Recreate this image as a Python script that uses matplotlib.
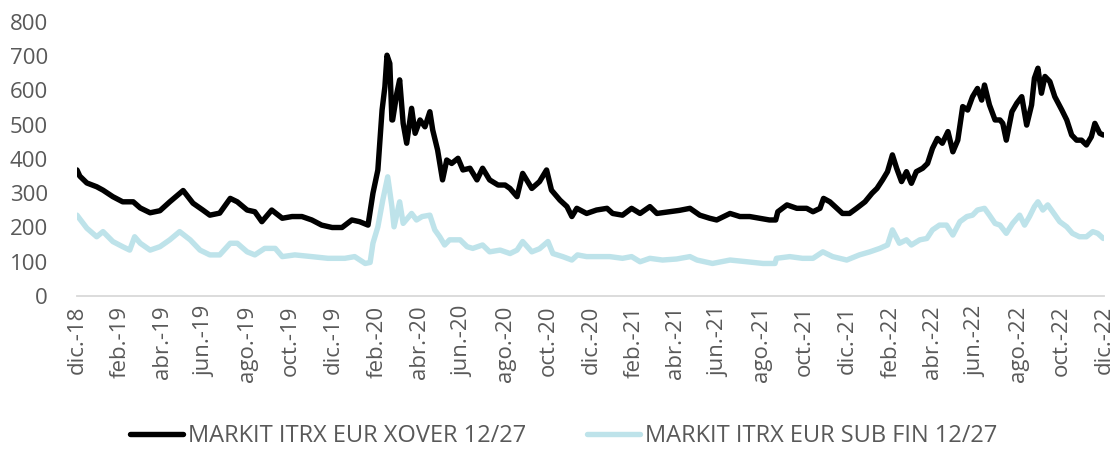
import pandas as pd
import matplotlib.pyplot as plt

plt.rcParams['font.family'] = ['Open Sans', 'DejaVu Sans']

# ---------------- data ----------------
xover_dates = [
    '2018-12-01', '2018-12-05', '2018-12-15', '2018-12-29', '2019-01-07', '2019-01-21',
    '2019-02-04', '2019-02-19', '2019-03-01', '2019-03-15', '2019-03-29', '2019-04-12',
    '2019-05-01', '2019-05-15', '2019-05-29', '2019-06-08', '2019-06-22', '2019-07-07',
    '2019-07-17', '2019-07-31', '2019-08-11', '2019-08-21', '2019-09-04', '2019-09-19',
    '2019-10-03', '2019-10-17', '2019-10-31', '2019-11-14', '2019-11-29', '2019-12-13',
    '2019-12-27', '2020-01-07', '2020-01-19', '2020-01-26', '2020-02-02', '2020-02-08',
    '2020-02-12', '2020-02-15', '2020-02-19', '2020-02-22', '2020-02-23', '2020-02-29',
    '2020-03-04', '2020-03-09', '2020-03-14', '2020-03-21', '2020-03-26', '2020-04-02',
    '2020-04-09', '2020-04-16', '2020-04-20', '2020-04-27', '2020-05-04', '2020-05-10',
    '2020-05-17', '2020-05-26', '2020-06-02', '2020-06-12', '2020-06-22', '2020-06-30',
    '2020-07-10', '2020-07-22', '2020-08-01', '2020-08-08', '2020-08-18', '2020-08-26',
    '2020-09-08', '2020-09-19', '2020-09-29', '2020-10-06', '2020-10-18', '2020-10-28',
    '2020-11-04', '2020-11-11', '2020-11-25', '2020-12-09', '2020-12-24', '2021-01-01',
    '2021-01-15', '2021-01-28', '2021-02-09', '2021-02-23', '2021-03-05', '2021-03-23',
    '2021-04-06', '2021-04-21', '2021-05-05', '2021-05-19', '2021-05-29', '2021-06-17',
    '2021-07-01', '2021-07-15', '2021-07-29', '2021-08-12', '2021-08-21', '2021-08-24',
    '2021-09-06', '2021-09-20', '2021-10-04', '2021-10-13', '2021-10-23', '2021-10-28',
    '2021-11-06', '2021-11-16', '2021-11-24', '2021-12-04', '2021-12-14', '2021-12-26',
    '2022-01-05', '2022-01-12', '2022-01-20', '2022-01-27', '2022-02-03', '2022-02-09',
    '2022-02-16', '2022-02-23', '2022-03-02', '2022-03-09', '2022-03-18', '2022-03-25',
    '2022-04-01', '2022-04-08', '2022-04-15', '2022-04-23', '2022-04-30', '2022-05-07',
    '2022-05-14', '2022-05-21', '2022-05-28', '2022-06-04', '2022-06-10', '2022-06-14',
    '2022-06-21', '2022-06-29', '2022-07-06', '2022-07-10', '2022-07-15', '2022-07-23',
    '2022-07-30', '2022-08-06', '2022-08-13', '2022-08-20', '2022-08-24', '2022-08-29',
    '2022-09-03', '2022-09-08', '2022-09-15', '2022-09-22', '2022-10-02', '2022-10-09',
    '2022-10-16', '2022-10-23', '2022-10-30', '2022-11-06', '2022-11-13', '2022-11-18',
    '2022-11-25', '2022-11-30',
]
xover_vals = [
    368, 350, 330, 319, 309, 290,
    275, 275, 257, 243, 249, 275,
    308, 271, 251, 236, 242, 285,
    275, 251, 246, 217, 251, 227,
    232, 232, 222, 207, 200, 200,
    222, 217, 207, 300, 368, 543,
    611, 703, 679, 514, 514, 592,
    631, 504, 446, 548, 475, 514,
    494, 538, 485, 426, 339, 397,
    387, 402, 368, 373, 339, 373,
    339, 324, 324, 314, 290, 358,
    314, 334, 368, 309, 280, 261,
    232, 256, 241, 251, 256, 241,
    236, 256, 241, 261, 241, 246,
    250, 256, 236, 227, 222, 241,
    232, 232, 227, 222, 222, 246,
    266, 256, 256, 246, 256, 285,
    275, 256, 241, 241, 256, 275,
    300, 314, 339, 363, 412, 373,
    334, 363, 329, 363, 373, 387,
    431, 460, 446, 480, 421, 455,
    553, 543, 582, 606, 572, 616,
    558, 514, 514, 504, 455, 538,
    563, 582, 499, 558, 636, 665,
    592, 641, 626, 582, 543, 514,
    470, 455, 455, 441, 465, 504,
    475, 470,
]

subfin_dates = [
    '2018-12-01', '2018-12-05', '2018-12-15', '2018-12-29', '2019-01-07', '2019-01-21',
    '2019-02-04', '2019-02-14', '2019-02-21', '2019-03-01', '2019-03-15', '2019-03-29',
    '2019-04-12', '2019-04-26', '2019-05-11', '2019-05-25', '2019-06-08', '2019-06-22',
    '2019-07-07', '2019-07-17', '2019-07-31', '2019-08-11', '2019-08-25', '2019-09-09',
    '2019-09-19', '2019-10-07', '2019-10-31', '2019-11-23', '2019-12-17', '2019-12-31',
    '2020-01-15', '2020-01-22', '2020-01-26', '2020-02-02', '2020-02-09', '2020-02-16',
    '2020-02-22', '2020-02-25', '2020-03-04', '2020-03-09', '2020-03-21', '2020-03-28',
    '2020-04-05', '2020-04-16', '2020-04-23', '2020-04-30', '2020-05-07', '2020-05-14',
    '2020-05-29', '2020-06-08', '2020-06-16', '2020-06-30', '2020-07-10', '2020-07-25',
    '2020-08-08', '2020-08-18', '2020-08-26', '2020-09-08', '2020-09-19', '2020-10-01',
    '2020-10-08', '2020-10-22', '2020-11-04', '2020-11-12', '2020-11-25', '2020-12-14',
    '2020-12-28', '2021-01-15', '2021-01-28', '2021-02-09', '2021-02-23', '2021-03-13',
    '2021-04-02', '2021-04-21', '2021-05-01', '2021-05-23', '2021-06-17', '2021-07-11',
    '2021-08-03', '2021-08-20', '2021-08-22', '2021-09-10', '2021-09-28', '2021-10-13',
    '2021-10-27', '2021-11-10', '2021-11-30', '2021-12-18', '2022-01-02', '2022-01-16',
    '2022-01-27', '2022-02-03', '2022-02-13', '2022-02-23', '2022-03-02', '2022-03-14',
    '2022-03-24', '2022-04-01', '2022-04-11', '2022-04-21', '2022-04-30', '2022-05-10',
    '2022-05-20', '2022-05-28', '2022-06-04', '2022-06-14', '2022-06-21', '2022-06-29',
    '2022-07-06', '2022-07-15', '2022-07-24', '2022-08-03', '2022-08-10', '2022-08-17',
    '2022-08-24', '2022-08-29', '2022-09-05', '2022-09-12', '2022-09-19', '2022-09-29',
    '2022-10-09', '2022-10-17', '2022-10-27', '2022-11-06', '2022-11-15', '2022-11-22',
    '2022-11-30',
]
subfin_vals = [
    236, 225, 198, 173, 188, 159,
    144, 134, 173, 154, 134, 144,
    164, 188, 164, 134, 120, 120,
    154, 154, 129, 120, 139, 139,
    115, 120, 115, 110, 110, 115,
    95, 98, 154, 202, 280, 348,
    261, 202, 275, 212, 241, 222,
    232, 236, 193, 173, 149, 164,
    164, 144, 139, 149, 129, 134,
    124, 134, 159, 129, 138, 159,
    124, 115, 105, 120, 115, 115,
    115, 110, 115, 100, 110, 105,
    108, 115, 105, 95, 105, 100,
    95, 95, 110, 115, 110, 110,
    129, 115, 105, 120, 129, 139,
    149, 193, 154, 164, 149, 164,
    168, 193, 207, 207, 178, 217,
    232, 236, 251, 256, 236, 212,
    207, 183, 212, 236, 207, 232,
    261, 275, 251, 266, 246, 217,
    202, 183, 173, 173, 188, 183,
    168,
]

series_names = ['MARKIT ITRX EUR XOVER 12/27', 'MARKIT ITRX EUR SUB FIN 12/27']
month_abbr = ['ene', 'feb', 'mar', 'abr', 'may', 'jun',
              'jul', 'ago', 'sep', 'oct', 'nov', 'dic']
y_ticks = [0, 100, 200, 300, 400, 500, 600, 700, 800]

# ---------------- figure ----------------
W, H = 1116, 449
fig = plt.figure(figsize=(W / 100, H / 100), dpi=100)
ax = fig.add_axes([77 / W, 1 - 296 / H, (1104 - 77) / W, (296 - 22) / H])

text_col = '#595959'

ax.plot(pd.to_datetime(xover_dates), xover_vals, color='black', lw=3.9,
        solid_joinstyle='round', solid_capstyle='round', label=series_names[0])
ax.plot(pd.to_datetime(subfin_dates), subfin_vals, color='#BEE3EA', lw=3.9,
        solid_joinstyle='round', solid_capstyle='round', label=series_names[1])

ax.set_ylim(0, 800)
ax.set_yticks(y_ticks)
ax.set_xlim(pd.Timestamp('2018-12-01'), pd.Timestamp('2022-12-01'))

ticks = pd.date_range('2018-12-01', '2022-12-01', freq='2MS')
ax.set_xticks(ticks)
ax.set_xticklabels(['%s.-%s' % (month_abbr[t.month - 1], str(t.year)[2:]) for t in ticks],
                   rotation=90)

for s in ['top', 'right', 'left']:
    ax.spines[s].set_visible(False)
ax.spines['bottom'].set_color('#D9D9D9')
ax.spines['bottom'].set_linewidth(1.3)

ax.tick_params(axis='both', length=0, colors=text_col, labelsize=16)
ax.tick_params(axis='y', pad=21)
ax.tick_params(axis='x', pad=7)

leg = fig.legend(loc='center', bbox_to_anchor=(0.505, 1 - 436 / H), ncol=2, frameon=False,
                 fontsize=17, handlelength=2.25, handletextpad=0.2, columnspacing=2.6)
for t in leg.get_texts():
    t.set_color(text_col)

fig.savefig('out.png', dpi=100)
